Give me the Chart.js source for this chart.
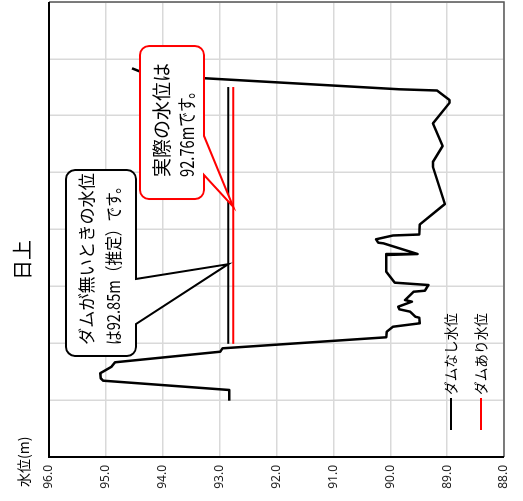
<!DOCTYPE html>
<html><head><meta charset="utf-8">
<script src="https://cdn.jsdelivr.net/npm/chart.js@4.4.0/dist/chart.umd.min.js"></script>
<style>
html,body{margin:0;padding:0;background:#fff;overflow:hidden;width:523px;height:501px;}
#wrap{position:absolute;left:0;top:0;width:501px;height:523px;transform-origin:0 0;transform:translate(0,501px) rotate(-90deg);}
canvas{display:block;}
</style></head><body>
<div id="wrap"><canvas id="c" width="501" height="523"></canvas></div>
<script>
// ---- data ----
const chartTitle = '日上';
const axisTitle = '水位(m)';
const groundName = '横断形状';
const groundDistance = [9.90, 11.78, 13.42, 13.84, 14.72, 15.17, 15.88, 16.65, 18.51, 19.11, 21.05, 22.03, 22.91, 23.51, 24.49, 24.67, 25.55, 25.97, 26.43, 27.31, 27.60, 29.06, 29.24, 30.24, 30.65, 32.58, 35.52, 35.69, 37.57, 37.68, 38.28, 38.95, 39.12, 40.88, 44.48, 51.04, 51.87, 54.68, 58.67, 62.24, 62.77, 64.44, 64.65, 66.59, 67.78, 68.34];
const groundLevel = [92.83, 92.83, 95.05, 95.09, 95.10, 95.02, 94.90, 94.84, 92.99, 92.95, 90.07, 90.06, 89.95, 89.48, 89.49, 89.56, 89.65, 89.84, 89.86, 89.62, 89.74, 89.59, 89.39, 89.33, 89.92, 90.07, 90.07, 89.52, 90.12, 90.21, 90.25, 89.95, 89.49, 89.48, 89.04, 89.25, 89.25, 89.08, 89.25, 88.96, 88.96, 89.18, 89.83, 93.26, 94.40, 94.54];
const waterSpan = [19.9, 65.05];
const seriesNames = ['ダムなし水位', 'ダムあり水位'];
const seriesLevels = [92.85, 92.76];
const levelTicks = [88, 89, 90, 91, 92, 93, 94, 95, 96];
const distanceTicks = [0, 10, 20, 30, 40, 50, 60, 70, 80];
const noteLines = [['ダムが無いときの水位', 'は92.85m（推定）です。'], ['実際の水位は', '92.76mです。']];
const noteTips = [[33.9, 92.85], [44.0, 92.76]];

// ---- styling / layout (not data) ----
const seriesColors = ['#000000', '#ff0000'];
const noteStyle = [
  {color:'#000000', box:[17.76, 50.46, 95.70, 94.47], base:[23.38, 31.30], pad:11, lineOff:[20, 47], font:17.5, maxW:[172, 166]},
  {color:'#ff0000', box:[45.36, 72.26, 94.40, 93.275], base:[49.58, 56.44], pad:22, lineOff:[22, 47], font:19, maxW:[114, 93]}
];
const JP = '"Noto Sans CJK JP", "Noto Sans", sans-serif';

const datasets = [{
  label: groundName, data: groundDistance.map((d, i) => ({x: d, y: groundLevel[i]})),
  borderColor: '#000', borderWidth: 2.5, showLine: true, pointRadius: 0, borderJoinStyle: 'round', inLegend: false
}];
seriesNames.forEach((n, i) => datasets.push({
  label: n, data: waterSpan.map(d => ({x: d, y: seriesLevels[i]})),
  borderColor: seriesColors[i], borderWidth: 2, showLine: true, pointRadius: 0, inLegend: true
}));

const decor = {
  id: 'decor',
  afterDraw(chart) {
    const ctx = chart.ctx, a = chart.chartArea, xs = chart.scales.x, ys = chart.scales.y;
    ctx.save();
    // frame
    ctx.lineWidth = 1.5; ctx.strokeStyle = '#595959';
    ctx.beginPath(); ctx.moveTo(a.left, a.bottom); ctx.lineTo(a.right, a.bottom); ctx.lineTo(a.right, a.top); ctx.stroke();
    ctx.lineWidth = 2; ctx.strokeStyle = '#000';
    ctx.beginPath(); ctx.moveTo(a.right, a.top); ctx.lineTo(a.left, a.top); ctx.lineTo(a.left, a.bottom); ctx.stroke();
    // titles
    ctx.fillStyle = '#000'; ctx.textBaseline = 'middle';
    ctx.font = '20px ' + JP; ctx.textAlign = 'center';
    ctx.fillText(chartTitle, 241, 22);
    ctx.font = '14px ' + JP; ctx.textAlign = 'left';
    ctx.fillText(axisTitle, a.left - 30, 24);
    // notes
    noteStyle.forEach((s, i) => {
      const L = xs.getPixelForValue(s.box[0]), R = xs.getPixelForValue(s.box[1]);
      const T = ys.getPixelForValue(s.box[2]), B = ys.getPixelForValue(s.box[3]);
      const b1 = xs.getPixelForValue(s.base[0]), b2 = xs.getPixelForValue(s.base[1]);
      const tx = xs.getPixelForValue(noteTips[i][0]), ty = ys.getPixelForValue(noteTips[i][1]);
      const r = 9;
      ctx.beginPath();
      ctx.moveTo(L + r, T);
      ctx.lineTo(R - r, T); ctx.arcTo(R, T, R, T + r, r);
      ctx.lineTo(R, B - r); ctx.arcTo(R, B, R - r, B, r);
      ctx.lineTo(b2, B); ctx.lineTo(tx, ty); ctx.lineTo(b1, B);
      ctx.lineTo(L + r, B); ctx.arcTo(L, B, L, B - r, r);
      ctx.lineTo(L, T + r); ctx.arcTo(L, T, L + r, T, r);
      ctx.closePath();
      ctx.fillStyle = '#fff'; ctx.fill();
      ctx.lineWidth = 2; ctx.strokeStyle = s.color; ctx.lineJoin = 'miter'; ctx.stroke();
      ctx.fillStyle = '#000'; ctx.font = s.font + 'px ' + JP; ctx.textAlign = 'left'; ctx.textBaseline = 'middle';
      noteLines[i].forEach((t, k) => ctx.fillText(t, L + s.pad, T + s.lineOff[k], s.maxW[k]));
    });
    // legend inside plot
    const items = chart.data.datasets.filter(d => d.inLegend);
    ctx.font = '14px ' + JP; ctx.textAlign = 'left'; ctx.textBaseline = 'middle';
    items.forEach((d, k) => {
      const y = a.bottom - 53 + k * 30, x0 = a.left + 27;
      ctx.strokeStyle = d.borderColor; ctx.lineWidth = 2;
      ctx.beginPath(); ctx.moveTo(x0, y); ctx.lineTo(x0 + 32, y); ctx.stroke();
      ctx.fillStyle = '#000'; ctx.fillText(d.label, x0 + 35, y, 82);
    });
    ctx.restore();
  }
};

new Chart(document.getElementById('c'), {
  type: 'scatter',
  data: {datasets},
  options: {
    responsive: false, animation: false, devicePixelRatio: 1,
    layout: {padding: {top: 49, right: 2, bottom: 19, left: 0}},
    plugins: {legend: {display: false}, title: {display: false}, tooltip: {enabled: false}},
    scales: {
      x: {type: 'linear', min: 0, max: 80,
          afterBuildTicks: s => { s.ticks = distanceTicks.map(v => ({value: v})); },
          ticks: {display: false}, grid: {color: '#d9d9d9', lineWidth: 1.5, drawTicks: false},
          border: {display: false}, afterFit: s => { s.height = 0; }},
      y: {type: 'linear', min: 88, max: 96,
          afterBuildTicks: s => { s.ticks = levelTicks.map(v => ({value: v})); },
          ticks: {callback: v => Number(v).toFixed(1), font: {size: 12, family: '"Noto Sans", sans-serif'}, color: '#222', padding: 8},
          grid: {color: '#d9d9d9', lineWidth: 1.5, drawTicks: false},
          border: {display: false}, afterFit: s => { s.width = 44; }}
    }
  },
  plugins: [decor]
});
</script>
</body></html>
